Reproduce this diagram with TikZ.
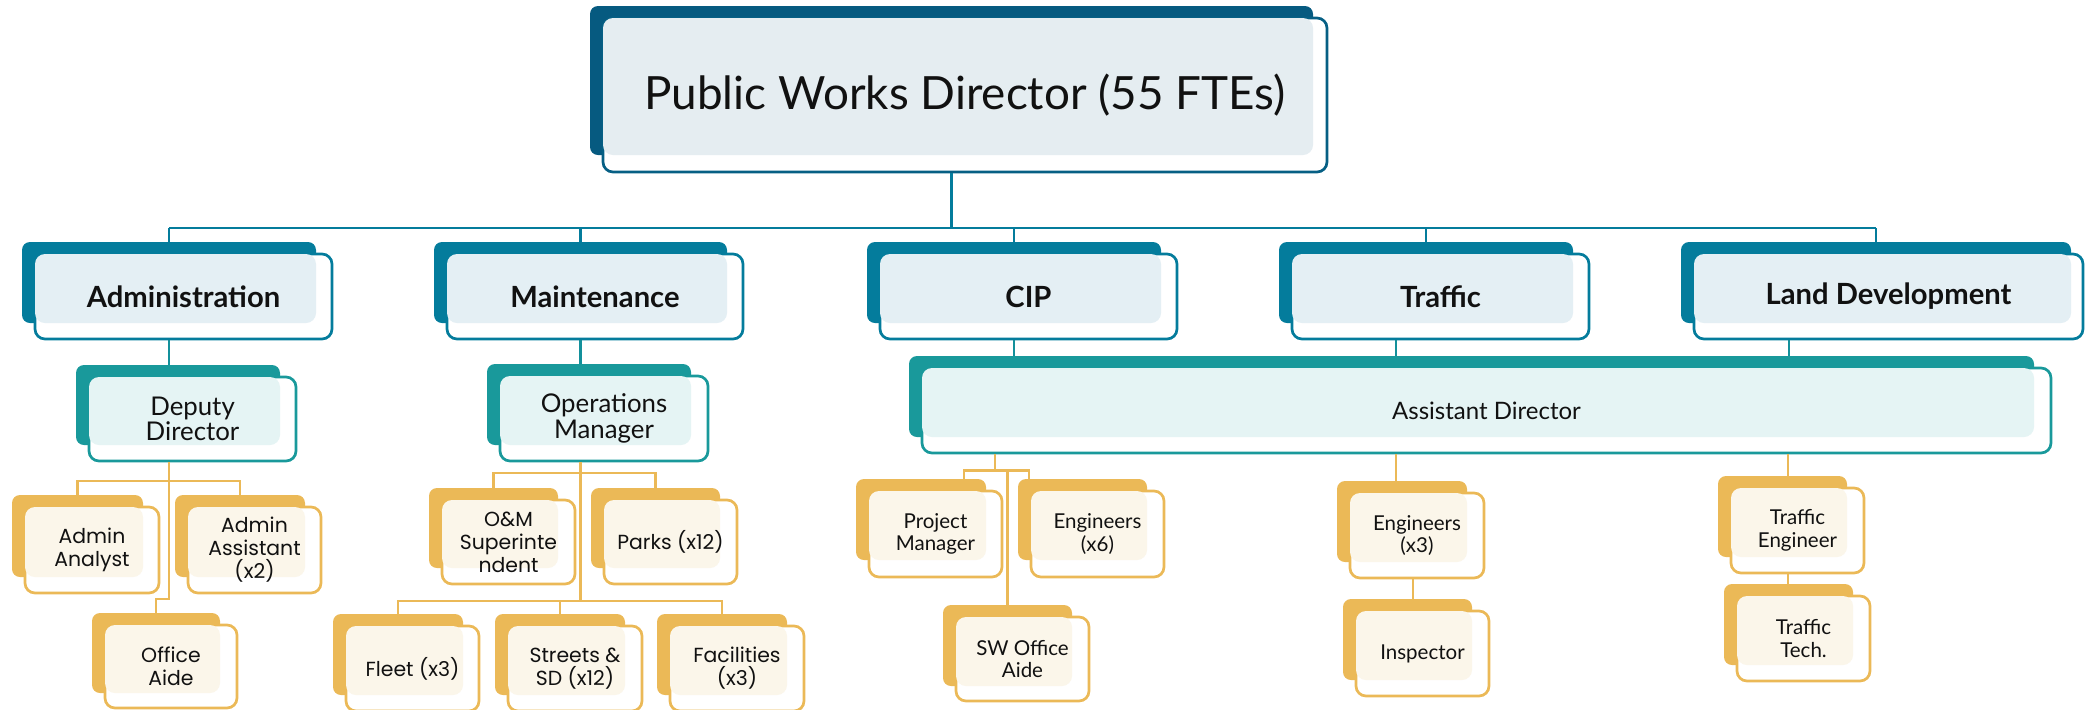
\documentclass[tikz,border=0pt]{standalone}
\usepackage{fontspec}
\setmainfont{Lato}
\newfontfamily\geofont{Poppins}
\usetikzlibrary{fit}

% palette
\definecolor{navyc}{HTML}{065A80}
\definecolor{navyl}{HTML}{E5EDF1}
\definecolor{bluec}{HTML}{047C9C}
\definecolor{bluel}{HTML}{E4EFF4}
\definecolor{tealc}{HTML}{19999B}
\definecolor{teall}{HTML}{E5F4F4}
\definecolor{goldc}{HTML}{EBB957}
\definecolor{goldl}{HTML}{FBF6EA}
\definecolor{inkc}{HTML}{111111}

\tikzset{
  boxback/.style={draw=none, inner sep=0pt, rounded corners=4pt},
  boxfront/.style={fill=white, line width=1.35pt, inner sep=0pt, rounded corners=5pt},
  boxlight/.style={rounded corners=5pt},
  navy back/.style={boxback, fill=navyc},
  navy front/.style={boxfront, draw=navyc!85!bluec},
  navy light/.style={boxlight, fill=navyl},
  navy text/.style={text=inkc, align=center, font=\fontsize{22.9}{27}\selectfont},
  blue back/.style={boxback, fill=bluec},
  blue front/.style={boxfront, draw=bluec},
  blue light/.style={boxlight, fill=bluel},
  blue text/.style={text=inkc, align=center, font=\bfseries\fontsize{14.6}{17}\selectfont},
  teal back/.style={boxback, fill=tealc},
  teal front/.style={boxfront, draw=tealc},
  teal light/.style={boxlight, fill=teall},
  teal text/.style={text=inkc, align=center, font=\fontsize{12.9}{12.8}\selectfont},
  ast text/.style={text=inkc, align=center, font=\fontsize{12}{12.5}\selectfont},
  ast back/.style={teal back},
  ast front/.style={teal front},
  ast light/.style={teal light},
  gold back/.style={boxback, fill=goldc},
  gold front/.style={boxfront, draw=goldc},
  gold light/.style={boxlight, fill=goldl},
  gold text/.style={text=inkc, align=center, font=\fontsize{10.25}{11.35}\selectfont},
  geo back/.style={gold back},
  geo front/.style={gold front},
  geo light/.style={gold light},
  geo text/.style={text=inkc, align=center, font=\geofont\fontsize{10.2}{11.5}\selectfont},
  wireblue/.style={draw=bluec, line width=1.3pt},
  wireteal/.style={draw=tealc!70!bluec, line width=1.3pt},
  wiregold/.style={draw=goldc, line width=1.2pt},
}

% #1 name, #2 palette, #3-#6 back corners, #7-#8 front lower right, #9 text
\newcommand\orgbox[9]{%
  \node[#2 back, fit={(#3,#4) (#5,#6)}] (#1b) {};
  \node[#2 front, fit={({#3+13},{#4+12}) (#7,#8)}] (#1) {};
  \fill[#2 light] ({#3+13},{#4+12}) rectangle (#5,#6);
  \node[#2 text] (#1t) at (#1.center) {#9};
}

\begin{document}
\begin{tikzpicture}[x=0.5pt, y=-0.5pt]
\useasboundingbox (0,0) rectangle (2085,709);
\clip (0,0) rectangle (2085,709);

% ---- boxes ----
\orgbox{top}{navy}{590}{6}{1313}{155}{1327}{172}{Public Works Director (55 FTEs)}

\orgbox{adm}{blue}{22}{242}{316}{323}{332}{339}{Administration}
\orgbox{mnt}{blue}{434}{242}{727}{323}{743}{339}{Maintenance}
\orgbox{cip}{blue}{867}{242}{1161}{323}{1177}{339}{CIP}
\orgbox{trf}{blue}{1279}{242}{1573}{323}{1589}{339}{Traffic}
\orgbox{land}{blue}{1681}{242}{2071}{323}{2083}{339}{Land Development}

\orgbox{dep}{teal}{76}{365}{280}{445}{296}{461}{Deputy\\Director}
\orgbox{ops}{teal}{487}{364}{691}{445}{708}{461}{Operations\\Manager}
\orgbox{ast}{ast}{909}{356}{2034}{437}{2051}{453}{Assistant Director}

\orgbox{ana}{geo}{12}{495}{143}{577}{159}{593}{Admin\\Analyst}
\orgbox{asst}{geo}{175}{495}{305}{577}{321}{593}{Admin\\Assistant\\(x2)}
\orgbox{ofc}{geo}{92}{613}{220}{693}{237}{708}{Office\\Aide}
\orgbox{oms}{geo}{429}{488}{558}{568}{575}{584}{O\&M\\Superinte\\ndent}
\orgbox{prk}{geo}{591}{488}{720}{568}{737}{584}{Parks (x12)}
\orgbox{flt}{geo}{333}{614}{463}{695}{479}{711}{Fleet (x3)}
\orgbox{str}{geo}{495}{614}{625}{695}{642}{711}{Streets \&\\SD (x12)}
\orgbox{fac}{geo}{657}{614}{787}{695}{804}{711}{Facilities\\(x3)}

\orgbox{pm}{gold}{856}{479}{986}{560}{1002}{577}{Project\\Manager}
\orgbox{engs}{gold}{1018}{479}{1147}{560}{1164}{577}{Engineers\\(x6)}
\orgbox{sw}{gold}{943}{605}{1072}{686}{1089}{701}{SW Office\\Aide}
\orgbox{engt}{gold}{1337}{481}{1467}{562}{1484}{578}{Engineers\\(x3)}
\orgbox{insp}{gold}{1343}{599}{1472}{680}{1489}{696}{Inspector}
\orgbox{te}{gold}{1718}{476}{1847}{557}{1864}{573}{Traffic\\Engineer}
\orgbox{tt}{gold}{1724}{584}{1853}{665}{1870}{681}{Traffic\\Tech.}

% ---- connectors ----
\coordinate (bus) at (0,228);
\draw[wireblue] (topb.south |- top.south) -- (topb.south |- bus);
\draw[wireblue] (admb.north |- bus) -- (landb.north |- bus);
\foreach \n in {admb,mntb,cipb,trfb,landb}
  \draw[wireblue] (\n.north |- bus) -- (\n.north);

\draw[wireteal] (admb.south |- adm.south) -- (admb.south |- depb.north);
\draw[wireteal] (mntb.south |- mnt.south) -- (mntb.south |- opsb.north);
\draw[wireteal] (cipb.south |- cip.south) -- (cipb.south |- astb.north);
\draw[wireteal] (1396,0 |- trf.south) -- (1396,0 |- astb.north);
\draw[wireteal] (1789,0 |- land.south) -- (1789,0 |- astb.north);

% administration group
\coordinate (abus) at (0,481);
\draw[wiregold] (admb.south |- dep.south) -- (admb.south |- 0,599) -- (ofcb.north |- 0,599) -- (ofcb.north);
\draw[wiregold] (anab.north) -- (anab.north |- abus) -- (asstb.north |- abus) -- (asstb.north);

% maintenance group
\coordinate (mbusa) at (0,473);
\coordinate (mbusb) at (0,601);
\draw[wiregold] (mntb.south |- ops.south) -- (mntb.south |- mbusb);
\draw[wiregold] (omsb.north) -- (omsb.north |- mbusa) -- (prkb.north |- mbusa) -- (prkb.north);
\draw[wiregold] (fltb.north) -- (fltb.north |- mbusb) -- (facb.north |- mbusb) -- (facb.north);
\draw[wiregold] (strb.north |- mbusb) -- (strb.north);

% CIP group
\coordinate (cbus) at (0,470.5);
\draw[wiregold] (995,0 |- ast.south) -- (995,0 |- cbus);
\draw[wiregold] (964,0 |- pmb.north) -- (964,0 |- cbus) -- (1029,0 |- cbus) -- (1029,0 |- engsb.north);
\draw[wiregold] (swb.north |- cbus) -- (swb.north);

% traffic group
\draw[wiregold] (1396,0 |- ast.south) -- (1396,0 |- engtb.north);
\draw[wiregold] (1413,0 |- engt.south) -- (1413,0 |- inspb.north);

% land development group
\draw[wiregold] (1788,0 |- ast.south) -- (1788,0 |- teb.north);
\draw[wiregold] (1788,0 |- te.south) -- (1788,0 |- ttb.north);
\end{tikzpicture}
\end{document}
